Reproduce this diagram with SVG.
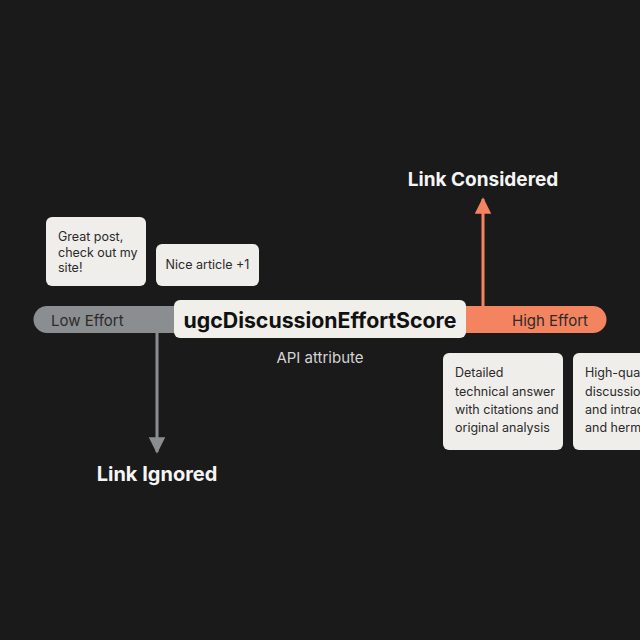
<svg xmlns="http://www.w3.org/2000/svg" width="640" height="640" viewBox="0 0 640 640">
<defs>
<style>
.card{fill:#efeeea;}
.ct{font-family:Inter,"Liberation Sans",sans-serif;font-size:12.5px;fill:#2a2a2a;}
.lbl{font-family:Inter,"Liberation Sans",sans-serif;font-size:15px;fill:#2b2b2b;}
.out{font-family:Inter,"Liberation Sans",sans-serif;font-weight:700;fill:#f5f5f5;text-anchor:middle;}
</style>
<marker id="ag" viewBox="0 0 10 10" refX="9" refY="5" markerWidth="6" markerHeight="5.5" orient="auto" markerUnits="strokeWidth"><path d="M0,0L10,5L0,10z" fill="#8b8e90"/></marker>
<marker id="ao" viewBox="0 0 10 10" refX="9" refY="5" markerWidth="5.5" markerHeight="5.5" orient="auto" markerUnits="strokeWidth"><path d="M0,0L10,5L0,10z" fill="#f4845f"/></marker>
</defs>
<rect width="640" height="640" fill="#1a1a1a"/>
<g id="scale-bar">
<path d="M47,306H180V333H47A13.5,13.5 0 0 1 47,306Z" fill="#8b8e90"/>
<path d="M460,306H593A13.5,13.5 0 0 1 593,333H460Z" fill="#f4845f"/>
<text class="lbl" x="51" y="326">Low Effort</text>
<text class="lbl" x="512" y="326">High Effort</text>
</g>
<g id="connectors">
<line x1="157" y1="333" x2="157" y2="452" stroke="#8b8e90" stroke-width="3" marker-end="url(#ag)"/>
<line x1="483" y1="306" x2="483" y2="199" stroke="#f4845f" stroke-width="3" marker-end="url(#ao)"/>
</g>
<g id="score">
<rect x="174" y="300" width="292" height="38" rx="6" fill="#f0efea"/>
<text x="320" y="328" font-family="Inter,'Liberation Sans',sans-serif" font-size="21.3" font-weight="700" fill="#111" text-anchor="middle">ugcDiscussionEffortScore</text>
<text x="320" y="363" font-family="Inter,'Liberation Sans',sans-serif" font-size="15" fill="#d4d4d4" text-anchor="middle">API attribute</text>
</g>
<g id="card-great">
<rect class="card" x="46" y="217" width="100" height="69" rx="6"/>
<text class="ct" x="58" y="241">Great post,</text>
<text class="ct" x="58" y="257">check out my</text>
<text class="ct" x="58" y="272">site!</text>
</g>
<g id="card-nice">
<rect class="card" x="156" y="244" width="103" height="42" rx="6"/>
<text class="ct" x="207.5" y="269" text-anchor="middle">Nice article +1</text>
</g>
<g id="card-detailed">
<rect class="card" x="443" y="353" width="120" height="97" rx="6"/>
<text class="ct" x="455" y="377">Detailed</text>
<text class="ct" x="455" y="396">technical answer</text>
<text class="ct" x="455" y="414">with citations and</text>
<text class="ct" x="455" y="432">original analysis</text>
</g>
<g id="card-highq">
<rect class="card" x="573" y="353" width="100" height="97" rx="6"/>
<text class="ct" x="585" y="377">High-quality</text>
<text class="ct" x="585" y="396">discussion</text>
<text class="ct" x="585" y="414">and intrad</text>
<text class="ct" x="585" y="432">and herme</text>
</g>
<g id="link-ignored">
<text class="out" x="157" y="481" font-size="20">Link Ignored</text>
</g>
<g id="link-considered">
<text class="out" x="483" y="186" font-size="19">Link Considered</text>
</g>
</svg>
